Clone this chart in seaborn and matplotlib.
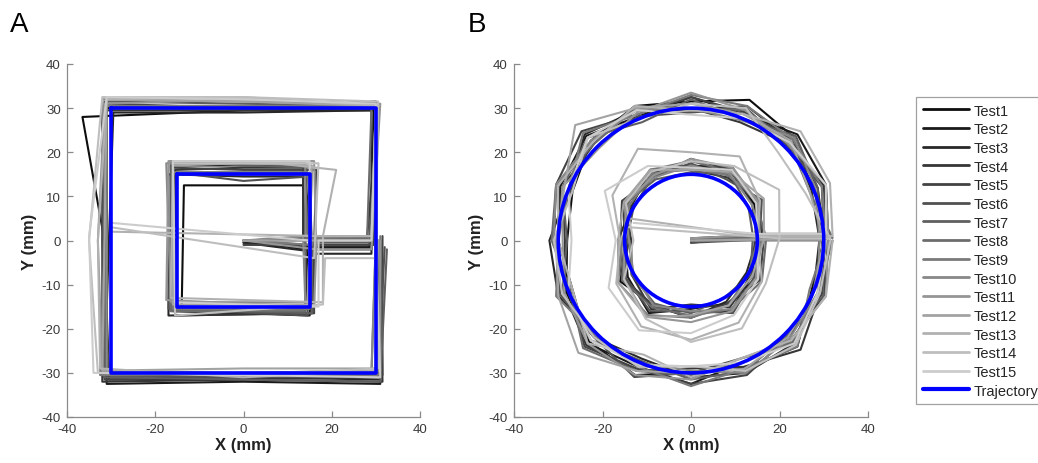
import numpy as np
import pandas as pd
import matplotlib
matplotlib.use("Agg")
import matplotlib.pyplot as plt
import seaborn as sns
from matplotlib.patches import Circle
from matplotlib.lines import Line2D

# ---------------- data ----------------
tests = [f"Test{i}" for i in range(1, 16)]

ref_outer_sq_x = [-30, 30, 30, -30, -30]
ref_outer_sq_y = [30, 30, -30, -30, 30]
ref_inner_sq_x = [-15, 15, 15, -15, -15]
ref_inner_sq_y = [15, 15, -15, -15, 15]

sq_base_x = [0, 15, 15, 0, -15, -15, 15, 15, 30, 30, 0, -30, -30, -30, 0, 30, 30]
sq_base_y = [0, 0, 15, 15, 15, -15, -15, 0, 0, 30, 30, 30, 0, -30, -30, -30, 0]

sq_dx = {
    "Test1":  [0, -1, -1.5, 0, 1.5, 1, -1, -0.5, -1, -0.5, 0, -6.5, -1.5, -0.5, 0, 0.5, 1],
    "Test2":  [0, 0, -1, 0, -1.5, -1, 0, 0.5, -1.5, 0, 0, -1.5, -1.5, -1, 0, 1, 0.5],
    "Test3":  [0, 0.5, 0, 0, -2, -2, 0.5, 1, -1, -1, 0, 0.5, -0.5, -1.5, 0, 1, 0],
    "Test4":  [0, -1.5, -1.5, 0, -0.5, -0.5, -1, -1, -2, 0.5, 0, -2, -2, -2, 0, 1.5, 1],
    "Test5":  [0, 1, 1.5, 0, -1, -1.5, 1, 1, -0.5, 0.5, 0, -1, -1, -1.5, 0, 1.5, 1.5],
    "Test6":  [0, -0.5, 0, 0, -1, -2, -0.5, 0, -1, 0, 0, -1.5, -2, -0.5, 0, 0.5, 2],
    "Test7":  [0, 0, 0.5, 0, -1.5, -1, 0.5, 0.5, -1.5, 0.5, 0, -1.5, -1, -1.5, 0, 1, 2.5],
    "Test8":  [0, -0.5, -1, 0, -1, -1.5, -1, -1, -2, -1, 0, -2, -1, -2, 0, -1, 0],
    "Test9":  [0, 0.5, -0.5, 0, -1, -1, 0, 0, -1, 0, 0, -1.5, -1.5, -2.5, 0, 0.5, 1],
    "Test10": [0, -1, -1, 0, -2.5, -1.5, -1, -1.5, -1, 0, 0, -2, -1, -1, 0, -1, 0],
    "Test11": [0, 1.5, 1, 0, -2, -2.5, 1, 1.5, -1, 1, 0, -1.5, -3, -2, 0, 1, 1],
    "Test12": [0, 0, 0.5, 0, -1, -1, -0.5, 0, -1, 0, 0, -1, -1.5, -2, 0, 0, 0.5],
    "Test13": [-30, 3, 6, 3, -1, -1.5, 3, 3, -1, 0.5, 0, -1, -3, -2.5, 0, 0, 0],
    "Test14": [-30, 1, 2, 0, -1, -0.5, 3, 3.5, 0, 0.5, 0, -2, -5, -3, 0, 0.5, 0],
    "Test15": [-30, 0, 0, 0, -1, -0.5, 2, 2, -1, 0, 0, -1, -5, -4, 0, 1, 0],
}
sq_dy = {
    "Test1":  [0, -2, -2.5, -2.5, -2.5, 0, -0.5, -2, -2, -0.5, -0.5, -2, 0, -1.5, -1.5, 0, 0],
    "Test2":  [-0.5, -1.5, 2, 2, 2, -1, -2, -1.5, -1.5, 1.5, 0, 0, 0, -2.5, -2, -2.5, 0],
    "Test3":  [-0.5, -2.5, -0.5, -0.5, 0, -2, -1.5, -3, -3, -0.5, -1, -1, 0, -1, -1, -1.5, -2],
    "Test4":  [0, 0.5, 1.5, 1.5, 1, -2, -1.5, 0.5, 0.5, 0, -0.5, -0.5, 0, -2, -1.5, -2, -1],
    "Test5":  [-1, -1, 1, 1, 1.5, -1, -1.5, -1, -1, 0.5, 0, 1, 0, -1.5, -1, -0.5, 1],
    "Test6":  [0, 0.5, -0.5, -1.5, 0.5, -0.5, -2, 0, 0, 1, 0.5, 0.5, 0, -0.5, -1, -1, -1.5],
    "Test7":  [0, -1, 1.5, 2, 3, -0.5, -1.5, -0.5, -0.5, 0.5, 1, 1.5, 0, -1, -1.5, -2, -2],
    "Test8":  [0, 0, 0, 0, 0, -1, -1, 0.5, 0.5, 0, 0, 0.5, 0, -0.5, -0.5, -0.5, 0],
    "Test9":  [0, -1, 0.5, 0.5, 0.5, -0.5, -0.5, 0.5, 1, 0.5, 0.5, 0.5, 0, -0.5, 0, -0.5, 1],
    "Test10": [0, 1, 2.5, 2.5, 2.5, 1, 1, 1, 1, 1, 1.5, 2, 0, 0, 0, 0.5, 1],
    "Test11": [0, -2, 3, 3, 3, 1.5, 0, -2, -2, 1, 2, 1, 0, 0.5, 0, 0.5, 0],
    "Test12": [0, 0, 2, 2.5, 2, 0.5, 0.5, 0, 0, 0.5, 1.5, 2, 0, 0.5, 1, 1, 0],
    "Test13": [2, 1, 1, 3, 3, 2, 1, 1, 1, 0.5, 2.5, 2, 0, 1, -1, 0.5, 0],
    "Test14": [3, -4, 2.5, 2.5, 2.5, -2, 0.5, -4, -4, 1.5, 2.5, 2.5, 0, 0, -0.5, 1, 0],
    "Test15": [4, 0, 3, 3, 3, 1, 0, 0, 0, 1, 2, 2.5, 1, 0, -0.5, -1, 0],
}

ref_circle_radii = [30, 15]
inner_angles = [0, 30, 60, 90, 120, 150, 180, 210, 240, 270, 300, 330, 360]
outer_angles = [0, 22.5, 45, 67.5, 90, 112.5, 135, 157.5, 180, 202.5, 225,
                247.5, 270, 292.5, 315, 337.5, 360]

inner_dr = {
    "Test1":  [0.5, 1.5, 3, 2, 2.5, 1, -1, 3.5, 2, 1, 3.5, 0.5, 0.5],
    "Test2":  [1, 3, 2, 3.5, 1.5, 2.5, 0, 1.5, 4, 0.5, 1.5, 2, 1],
    "Test3":  [0, 1, 4, 2, 3.5, 0.5, 1.5, 3, 2, 2.5, 1, -0.5, 0],
    "Test4":  [-0.5, 2.5, 1.5, 1, 3, 2, -1.5, 0.5, 3, -0.5, 2.5, 1, -0.5],
    "Test5":  [1.5, 2, 3.5, 3.5, 1.5, 3, 1, 2.5, 2, 2.5, 1.5, 3, 1.5],
    "Test6":  [0.5, 3.5, 1, 2.5, 2, 0, -0.5, 2, 3.5, 1, 4, 1.5, 0.5],
    "Test7":  [-1, 0, 2.5, 0.5, 1, 2, -1, 0.5, 1.5, 1.5, 0, 0.5, -1],
    "Test8":  [2, 2, 3, 3, 3.5, 1.5, 0, 3, 2.5, 2, 3, 3.5, 2],
    "Test9":  [0, 3, 2, 1.5, 2.5, 1, 0.5, 4, 4.5, 2.5, 2, 0, 0],
    "Test10": [1, 1, 2.5, 2, 1.5, 2.5, -1, 0, 2, 1, 3, 2, 1],
    "Test11": [0.5, 2.5, 4, 3.5, 2, 2, 0, 2.5, 5, 3.5, 3.5, 2, 0.5],
    "Test12": [1.5, 4, 3, 1, 3.5, 2.5, 1.5, 4, 5, 2, 2, 1, 1.5],
    "Test13": [0, 3, 7, 5, 9, 5.5, 1, 4.5, 7.5, 7.5, 6.5, 3.5, 0],
    "Test14": [5, 8, 4.5, 3, 3, 2, -2, 2.5, 5.5, 8, 8, 4.5, 5],
    "Test15": [0, 2, 3.5, 1.5, 4.5, 7.5, 2, 6.5, 8.5, 6, 4.5, 2.5, 0],
}
outer_dr = {
    "Test1":  [0, 1, 3, 4.5, 1.5, 3, 2, -1, -2, 0.5, 2.5, 3, 0, 1.5, 4, -0.5, 0],
    "Test2":  [1, 3, 4, 1, 2.5, 0.5, 3.5, 2, 0, -1, 3, 1, 2.5, 0, 2, 2.5, 1],
    "Test3":  [-1, -0.5, 2, 3, -0.5, 2, 4, 0, 2, 2.5, 1, -1, 1, 2.5, 3, 0, -1],
    "Test4":  [0.5, 2.5, 1, -1, 0, 3, 1, 1.5, -1.5, 1, 3.5, 2, -1, 1, 5, 1.5, 0.5],
    "Test5":  [1.5, 0, 2.5, 1.5, 2.5, 1, 5, 3, 1, 0, 4, 1.5, 2.5, 3, 1, 2, 1.5],
    "Test6":  [0, 2, 0.5, 2.5, -1, 0.5, 2, -0.5, 0.5, 2, 1, 3.5, 0, -1, 3, 0, 0],
    "Test7":  [-0.5, 1, 3.5, 0, 2, -1, 3, 1.5, -2, 1.5, 2, -0.5, 1.5, 2, 0.5, 2.5, -0.5],
    "Test8":  [2, -1, 1.5, 2, 0, 2.5, 1, 3, 1.5, -0.5, 4.5, 2, 0.5, 0, 2.5, 1, 2],
    "Test9":  [0.5, 2, 2.5, 3, 3, 1, 4.5, 0, 0, 3, 0.5, 1, 3, 1.5, 4, -1, 0.5],
    "Test10": [-1, 0.5, 3, -0.5, 0, 2, 2, 3, 1, 0, 2, 0, -0.5, 2.5, 1.5, 1, -1],
    "Test11": [1, 3, 1, 2, 3.5, 1.5, -0.5, 1.5, -1, 1, 3, 3, 1.5, -1, 2, 3, 1],
    "Test12": [0, -1, 2, 1, 1, 2.5, 7, 1, 0.5, 2.5, 6, 2, 0, 1.5, 1, 0, 0],
    "Test13": [2, 4, 5, 1, -0.5, 3, 1.5, 2.5, 0, -1, 3, -2, 1, -1, 2, 3, 2],
    "Test14": [1.5, -2, -2, 2.5, 1, 0, 3, -1, 1, 1.5, 1, 1, -1.5, 2, 3.5, 1.5, 1.5],
    "Test15": [0.5, 3, 1.5, 0, -1.5, 2, 3, 0, -3, 0, 2, 0.5, -1.5, 0, 3, 1, 0.5],
}
circ_start_x = [0, 0, 0.5, 0, 1, 0, 0, 0.5, 0, 1, 0, 0, -14, -14, -13]
circ_start_y = [0, -0.5, 0, 0.5, 0, -0.5, 0, 0.5, 0, 0, 0.5, 0, 5, 3, 4]
circ_conn_y = [1.5, 1.0, 0.5, 1.2, 0.8, 0.2, 1.0, 0.6, 0.0, 0.4, 1.3, 0.2, 1.0, 0.5, 1.5]

gray_levels = np.linspace(0.05, 0.80, len(tests))
palette = {t: (g, g, g) for t, g in zip(tests, gray_levels)}

# ---------------- tidy frames ----------------
rows_a = []
for t in tests:
    for k, (bx, by, ddx, ddy) in enumerate(zip(sq_base_x, sq_base_y, sq_dx[t], sq_dy[t])):
        rows_a.append((t, k, bx + ddx, by + ddy))
df_a = pd.DataFrame(rows_a, columns=["test", "step", "x", "y"])

rows_b = []
for i, t in enumerate(tests):
    k = 0
    rows_b.append((t, k, circ_start_x[i], circ_start_y[i])); k += 1
    for a, dr in zip(inner_angles, inner_dr[t]):
        r = ref_circle_radii[1] + dr
        yy = r * np.sin(np.radians(a))
        if a in (0, 360):
            yy = circ_conn_y[i]
        rows_b.append((t, k, r * np.cos(np.radians(a)), yy)); k += 1
    for a, dr in zip(outer_angles, outer_dr[t]):
        r = ref_circle_radii[0] + dr
        yy = r * np.sin(np.radians(a))
        if a == 0:
            yy = circ_conn_y[i]
        rows_b.append((t, k, r * np.cos(np.radians(a)), yy)); k += 1
df_b = pd.DataFrame(rows_b, columns=["test", "step", "x", "y"])

# ---------------- figure ----------------
sns.set_theme(style="white")
plt.rcParams['font.family'] = ['Liberation Sans', 'DejaVu Sans']
plt.rcParams['axes.unicode_minus'] = False

W, H = 1038, 464
fig = plt.figure(figsize=(W / 100, H / 100), dpi=100)
ax_a = fig.add_axes([67 / W, 1 - 418 / H, 353 / W, 353 / H])
ax_b = fig.add_axes([514 / W, 1 - 418 / H, 354 / W, 353 / H])

blue = (0, 0, 1)
for ax, df in ((ax_a, df_a), (ax_b, df_b)):
    sns.lineplot(data=df, x="x", y="y", hue="test", hue_order=tests, palette=palette,
                 sort=False, estimator=None, linewidth=1.5, legend=False, ax=ax)

sns.lineplot(x=ref_outer_sq_x, y=ref_outer_sq_y, sort=False, estimator=None,
             color=blue, linewidth=2.6, ax=ax_a)
sns.lineplot(x=ref_inner_sq_x, y=ref_inner_sq_y, sort=False, estimator=None,
             color=blue, linewidth=2.6, ax=ax_a)
for r in ref_circle_radii:
    ax_b.add_patch(Circle((0, 0), r, fill=False, ec=blue, lw=2.6, zorder=5))

axis_gray = "#8a8a8a"
for ax in (ax_a, ax_b):
    ax.set_xlim(-40, 40)
    ax.set_ylim(-40, 40)
    ax.set_xticks([-40, -20, 0, 20, 40])
    ax.set_yticks([-40, -30, -20, -10, 0, 10, 20, 30, 40])
    for s in ("top", "right"):
        ax.spines[s].set_visible(False)
    for s in ("left", "bottom"):
        ax.spines[s].set_color(axis_gray)
        ax.spines[s].set_linewidth(0.9)
    ax.tick_params(direction="in", length=4, width=0.9, color=axis_gray,
                   labelsize=9.5, labelcolor="#3a3a3a", pad=4.5,
                   bottom=True, left=True)
    ax.set_xlabel("X (mm)", fontsize=12, fontweight="bold", color="#222222", labelpad=1)
    ax.set_ylabel("Y (mm)", fontsize=12, fontweight="bold", color="#222222", labelpad=3)
    ax.set_facecolor("white")

fig.text(10 / W, 1 - 25 / H, "A", fontsize=20, va="center", ha="left", color="black")
fig.text(468 / W, 1 - 25 / H, "B", fontsize=20, va="center", ha="left", color="black")

handles = [Line2D([], [], color=palette[t], lw=2.0) for t in tests]
handles.append(Line2D([], [], color=blue, lw=3.0))
labels = tests + ["Trajectory"]
leg = fig.legend(handles, labels, loc="upper left",
                 bbox_to_anchor=(916 / W, 1 - 98 / H), bbox_transform=fig.transFigure,
                 borderaxespad=0, frameon=True, fancybox=False, fontsize=10.5,
                 handlelength=3.2, handletextpad=0.3, labelspacing=0.32, borderpad=0.45)
leg.get_frame().set_edgecolor(axis_gray)
leg.get_frame().set_linewidth(0.9)

fig.savefig("out.png", dpi=100, facecolor="white")
